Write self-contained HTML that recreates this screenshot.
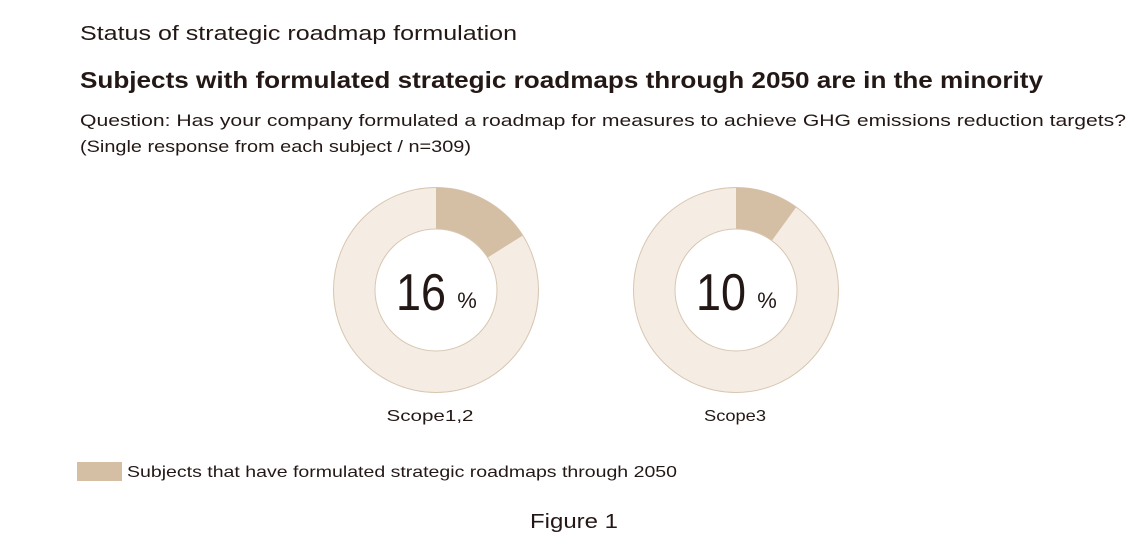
<!DOCTYPE html>
<html><head><meta charset="utf-8"><style>
body{margin:0;background:#fff;}
svg{display:block;font-family:"Liberation Sans",sans-serif;}
</style></head><body>
<svg width="1148" height="549" viewBox="0 0 1148 549">
<text x="80" y="40" font-size="20" fill="#231815" textLength="437" lengthAdjust="spacingAndGlyphs">Status of strategic roadmap formulation</text>
<text x="80" y="88" font-size="23" font-weight="bold" fill="#231815" textLength="963" lengthAdjust="spacingAndGlyphs">Subjects with formulated strategic roadmaps through 2050 are in the minority</text>
<text x="80" y="126" font-size="17" fill="#231815" textLength="1046" lengthAdjust="spacingAndGlyphs">Question: Has your company formulated a roadmap for measures to achieve GHG emissions reduction targets?</text>
<text x="80" y="152" font-size="17" fill="#231815" textLength="391" lengthAdjust="spacingAndGlyphs">(Single response from each subject / n=309)</text>

<g>
<circle cx="436" cy="290" r="102.5" fill="#f5ede4" stroke="#d8c6b1" stroke-width="1"/>
<path d="M436,290 L436,187.5 A102.5,102.5 0 0 1 522.8,235.5 Z" fill="#d4bfa5"/>
<circle cx="436" cy="290" r="61" fill="#fff" stroke="#d8c6b1" stroke-width="1"/>
<text x="421" y="310" font-size="52" text-anchor="middle" fill="#231815" textLength="50" lengthAdjust="spacingAndGlyphs">16</text>
<text x="467" y="308" font-size="22" text-anchor="middle" fill="#231815">%</text>
<text x="430" y="421" font-size="16" text-anchor="middle" fill="#231815" textLength="87" lengthAdjust="spacingAndGlyphs">Scope1,2</text>
</g>
<g>
<circle cx="736" cy="290" r="102.5" fill="#f5ede4" stroke="#d8c6b1" stroke-width="1"/>
<path d="M736,290 L736,187.5 A102.5,102.5 0 0 1 796.2,207.1 Z" fill="#d4bfa5"/>
<circle cx="736" cy="290" r="61" fill="#fff" stroke="#d8c6b1" stroke-width="1"/>
<text x="721" y="310" font-size="52" text-anchor="middle" fill="#231815" textLength="50" lengthAdjust="spacingAndGlyphs">10</text>
<text x="767" y="308" font-size="22" text-anchor="middle" fill="#231815">%</text>
<text x="735" y="421" font-size="16" text-anchor="middle" fill="#231815" textLength="62" lengthAdjust="spacingAndGlyphs">Scope3</text>
</g>

<rect x="77" y="462" width="45" height="19" fill="#d4bfa5"/>
<text x="127" y="477" font-size="16" fill="#231815" textLength="550" lengthAdjust="spacingAndGlyphs">Subjects that have formulated strategic roadmaps through 2050</text>
<text x="574" y="528" font-size="20" text-anchor="middle" fill="#231815" textLength="88" lengthAdjust="spacingAndGlyphs">Figure 1</text>
</svg>
</body></html>
